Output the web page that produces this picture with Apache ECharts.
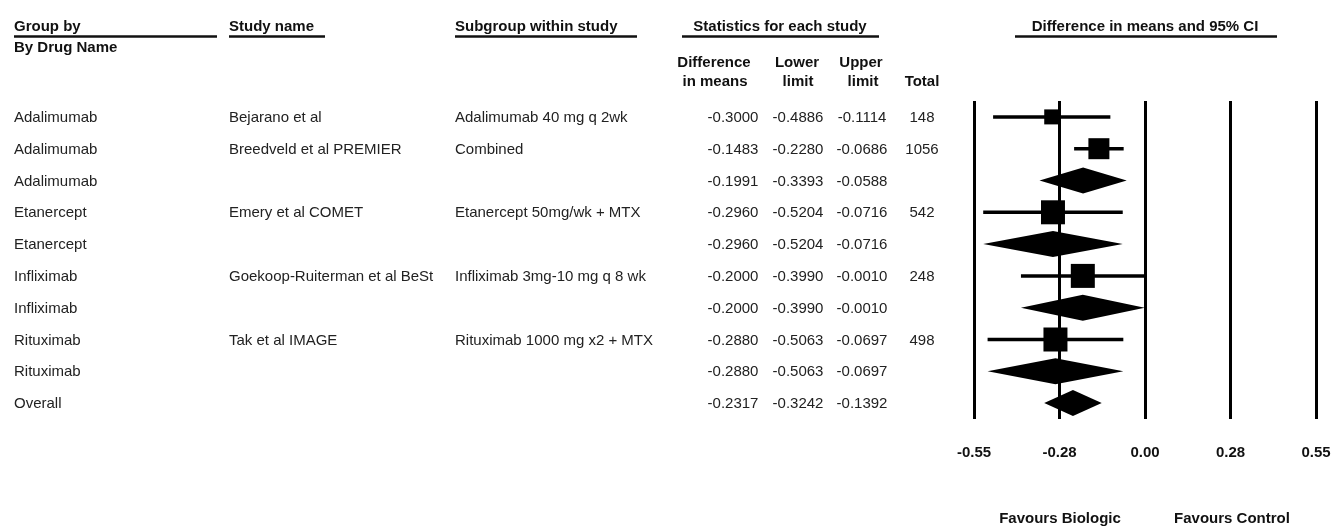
<!DOCTYPE html>
<html><head><meta charset="utf-8">
<script src="https://cdn.jsdelivr.net/npm/echarts@6/dist/echarts.min.js"></script>
<style>html,body{margin:0;padding:0;background:#fff;}#c{width:1333px;height:526px;}</style>
</head><body><div id="c"></div>
<script>
// ---- data ----
const groups = ['Adalimumab','Adalimumab','Adalimumab','Etanercept','Etanercept','Infliximab','Infliximab','Rituximab','Rituximab','Overall'];
const studies = ['Bejarano et al','Breedveld et al PREMIER','','Emery et al COMET','','Goekoop-Ruiterman et al BeSt','','Tak et al IMAGE','',''];
const subgroups = ['Adalimumab 40 mg q 2wk','Combined','','Etanercept 50mg/wk + MTX','','Infliximab 3mg-10 mg q 8 wk','','Rituximab 1000 mg x2 + MTX','',''];
const diffMeans = [-0.3000,-0.1483,-0.1991,-0.2960,-0.2960,-0.2000,-0.2000,-0.2880,-0.2880,-0.2317];
const lowerLimit = [-0.4886,-0.2280,-0.3393,-0.5204,-0.5204,-0.3990,-0.3990,-0.5063,-0.5063,-0.3242];
const upperLimit = [-0.1114,-0.0686,-0.0588,-0.0716,-0.0716,-0.0010,-0.0010,-0.0697,-0.0697,-0.1392];
const totals = ['148','1056','','542','','248','','498','',''];
const rowKinds = ['study','study','summary','study','summary','study','summary','study','summary','summary'];
const tickLabels = ['-0.55','-0.28','0.00','0.28','0.55'];

// ---- style / layout ----
const boxPx = [15,21,0,24,0,24,0,24,0,0];
const FONT = '"Liberation Sans", Arial, Helvetica, sans-serif';
const GRID_TOP = 101, ROW_H = 31.8, NROWS = groups.length;
const rowY = i => GRID_TOP + (i + 0.5) * ROW_H;

const graphics = [];
function txt(t, x, y, align, bold) {
  graphics.push({type:'text', x:x, y:y, silent:true,
    style:{text:t, textAlign:align, textVerticalAlign:'middle',
      font:(bold?'bold ':'') + '15px ' + FONT, fill: bold ? '#111' : '#222'}});
}
function uline(x1, x2, y) {
  graphics.push({type:'line', silent:true, shape:{x1:x1,y1:y,x2:x2,y2:y}, style:{stroke:'#111', lineWidth:2.5}});
}
// headers
txt('Group by', 14, 27, 'left', true);
txt('By Drug Name', 14, 47.5, 'left', true);
uline(14, 217, 36.5);
txt('Study name', 229, 27, 'left', true);
uline(229, 325, 36.5);
txt('Subgroup within study', 455, 27, 'left', true);
uline(455, 637, 36.5);
txt('Statistics for each study', 780, 27, 'center', true);
uline(682, 879, 36.5);
txt('Difference in means and 95% CI', 1145, 27, 'center', true);
uline(1015, 1277, 36.5);
txt('Difference', 714, 63, 'center', true);
txt('in means', 715, 82, 'center', true);
txt('Lower', 797, 63, 'center', true);
txt('limit', 798, 82, 'center', true);
txt('Upper', 861, 63, 'center', true);
txt('limit', 863, 82, 'center', true);
txt('Total', 922, 82, 'center', true);
// rows
for (let i = 0; i < NROWS; i++) {
  const y = rowY(i) + 1;
  txt(groups[i], 14, y, 'left', false);
  if (studies[i]) txt(studies[i], 229, y, 'left', false);
  if (subgroups[i]) txt(subgroups[i], 455, y, 'left', false);
  txt(diffMeans[i].toFixed(4), 733, y, 'center', false);
  txt(lowerLimit[i].toFixed(4), 798, y, 'center', false);
  txt(upperLimit[i].toFixed(4), 862, y, 'center', false);
  if (totals[i]) txt(totals[i], 922, y, 'center', false);
}
txt('Favours Biologic', 1060, 519, 'center', true);
txt('Favours Control', 1232, 519, 'center', true);

const chart = echarts.init(document.getElementById('c'));
chart.setOption({
  animation: false,
  backgroundColor: '#fff',
  grid: {left: 974, right: 17, top: GRID_TOP, height: ROW_H * NROWS, outerBoundsMode: 'none', containLabel: false},
  xAxis: {
    type: 'value', min: -0.55, max: 0.55, interval: 0.275,
    axisLine: {show: false}, axisTick: {show: false},
    splitLine: {show: true, showMinLine: true, showMaxLine: true, lineStyle: {color: '#000', width: 3}},
    axisLabel: {show: true, showMinLabel: true, showMaxLabel: true, margin: 26,
      formatter: v => tickLabels[Math.round((v + 0.55) / 0.275)],
      fontFamily: FONT, fontSize: 15, fontWeight: 'bold', color: '#111'}
  },
  yAxis: {type: 'value', inverse: true, min: 0, max: NROWS, show: false, splitLine: {show: false}},
  series: [{
    type: 'custom',
    data: diffMeans.map((d, i) => [i, d, lowerLimit[i], upperLimit[i]]),
    encode: {x: [1, 2, 3], y: 0},
    renderItem: function (params, api) {
      const i = api.value(0);
      const yv = i + 0.5;
      const pE = api.coord([api.value(1), yv]);
      const pL = api.coord([api.value(2), yv]);
      const pH = api.coord([api.value(3), yv]);
      if (rowKinds[i] === 'study') {
        const s = boxPx[i];
        return {type: 'group', children: [
          {type: 'line', shape: {x1: pL[0], y1: pL[1], x2: pH[0], y2: pH[1]}, style: {stroke: '#000', lineWidth: 3.5}},
          {type: 'rect', shape: {x: pE[0] - s / 2, y: pE[1] - s / 2, width: s, height: s}, style: {fill: '#000'}}
        ]};
      }
      const h = 13;
      return {type: 'polygon', shape: {points: [[pL[0], pL[1]], [pE[0], pE[1] - h], [pH[0], pH[1]], [pE[0], pE[1] + h]]}, style: {fill: '#000'}};
    }
  }],
  graphic: graphics
});
</script></body></html>
